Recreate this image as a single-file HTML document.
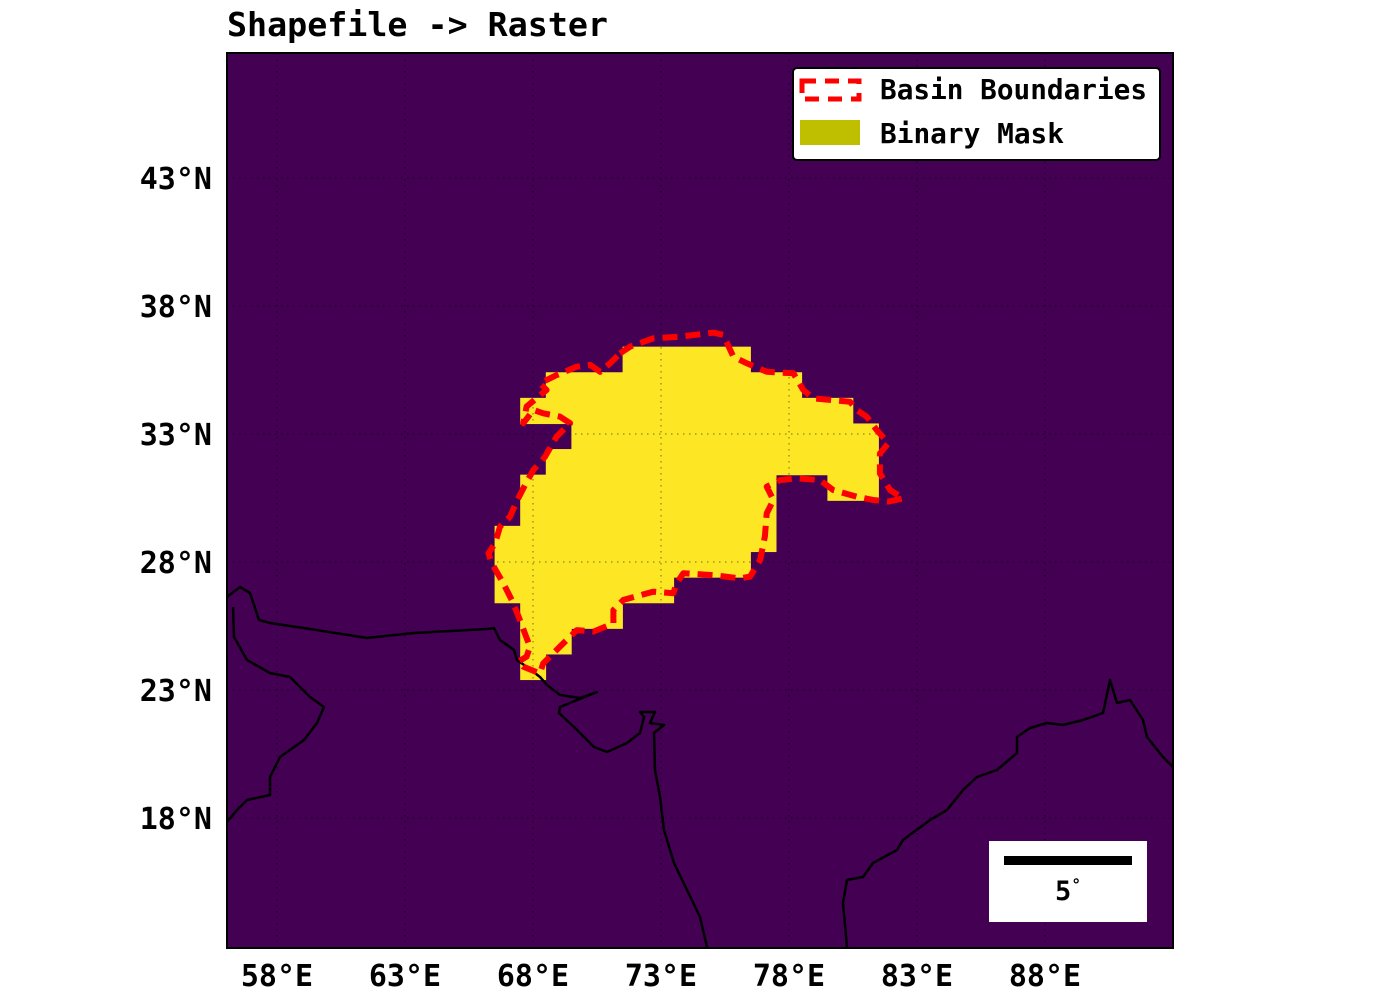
<!DOCTYPE html>
<html><head><meta charset="utf-8"><style>
html,body{margin:0;padding:0;background:#fff;}
svg{display:block;font-family:"DejaVu Sans Mono","Liberation Mono",monospace;font-weight:bold;}
</style></head><body>
<svg id="chart" width="1400" height="1000" viewBox="0 0 1400 1000">
<text x="227" y="36" font-size="33" textLength="381" lengthAdjust="spacingAndGlyphs">Shapefile -&gt; Raster</text>
<clipPath id="clip"><rect x="227" y="53" width="946" height="895"/></clipPath>
<rect x="227" y="53" width="946" height="895" fill="#440154"/>
<g id="mask" clip-path="url(#clip)"></g>
<g id="grid" clip-path="url(#clip)"></g>
<g id="coast" clip-path="url(#clip)"></g>
<g id="basin" clip-path="url(#clip)"></g>
<rect x="227" y="53" width="946" height="895" fill="none" stroke="#000" stroke-width="2"/>
<g id="xticks"></g>
<g id="yticks"></g>
<g>
<rect x="793" y="68" width="367" height="92" rx="4" fill="#fff" stroke="#000" stroke-width="2"/>
<rect x="802" y="81" width="57" height="18" fill="none" stroke="#ff0000" stroke-width="5" stroke-dasharray="14,9"/>
<text x="880" y="99" font-size="28" textLength="267" lengthAdjust="spacingAndGlyphs">Basin Boundaries</text>
<rect x="800" y="120" width="60" height="25" fill="#bfbf00"/>
<text x="880" y="143" font-size="28" textLength="184" lengthAdjust="spacingAndGlyphs">Binary Mask</text>
</g>
<g>
<rect x="989" y="841" width="158" height="81" fill="#fff"/>
<rect x="1004" y="856" width="128" height="9" fill="#000"/>
<text x="1068" y="900" font-size="27" text-anchor="middle">5<tspan font-size="16" dy="-10">°</tspan></text>
</g>
</svg>
<script>
const lonTicks=[58,63,68,73,78,83,88];
const latTicks=[43,38,33,28,23,18];
// mask rows: top latitude edge, list of [west,east] lon segments
const maskRowTop=[36.4,35.4,34.4,33.4,32.4,31.4,30.4,29.4,28.4,27.4,26.4,25.4,24.4];
const maskRowSegs=[[[71.5,76.5]],[[68.5,78.5]],[[67.5,80.5]],[[69.5,81.5]],[[68.5,81.5]],[[67.5,77.5],[79.5,81.5]],[[67.5,77.5]],[[66.5,77.5]],[[66.5,76.5]],[[66.5,73.5]],[[67.5,71.5]],[[67.5,69.5]],[[67.5,68.5]]];
const basinLon=[71.40,71.79,72.70,73.74,75.04,75.43,75.83,76.35,77.13,78.17,78.56,78.95,80.38,80.64,81.03,81.42,81.88,81.55,81.55,81.95,82.47,81.88,81.29,80.64,79.73,79.21,78.30,77.65,77.13,77.39,77.13,77.06,76.87,76.48,76.09,75.04,73.87,73.61,73.48,72.70,71.53,71.14,71.14,70.36,69.71,69.05,68.66,68.40,68.27,67.62,67.43,67.75,67.88,67.49,67.23,66.84,66.39,66.26,66.52,66.71,67.10,67.36,67.69,68.01,68.47,68.92,69.45,69.05,68.40,68.01,67.82,67.62,67.75,68.21,68.53,68.27,68.92,69.71,70.23,70.62,71.01,71.40];
const basinLat=[36.15,36.41,36.74,36.80,36.96,36.87,36.02,35.76,35.43,35.37,34.72,34.39,34.26,33.94,33.68,33.16,32.64,32.24,31.46,30.81,30.49,30.36,30.42,30.55,30.81,31.20,31.27,31.20,30.94,30.42,29.90,29.00,28.08,27.43,27.36,27.49,27.56,27.17,26.78,26.84,26.52,26.12,25.60,25.28,25.34,24.69,24.30,24.04,23.65,23.91,24.11,24.30,24.69,25.73,26.39,27.17,27.95,28.34,28.73,29.38,29.77,30.36,31.01,31.59,32.11,32.90,33.42,33.68,33.81,33.94,33.68,33.42,34.07,34.46,34.72,34.98,35.30,35.63,35.70,35.43,35.76,36.15];

const PX=25.6;
function xOf(lon){return 533+(lon-68)*PX;}
function yOf(lat){return 562-(lat-28)*PX;}
const NS='http://www.w3.org/2000/svg';
function mk(tag,attrs,parent){const e=document.createElementNS(NS,tag);for(const k in attrs)e.setAttribute(k,attrs[k]);parent.appendChild(e);return e;}

const maskG=document.getElementById('mask');
maskRowTop.forEach((top,i)=>{
  maskRowSegs[i].forEach(s=>{
    const r=mk('rect',{x:xOf(s[0]),y:yOf(top)-0.3,width:xOf(s[1])-xOf(s[0])+0.3,height:PX+0.6,fill:'#fde725'},maskG);
    
    
  });
});

const gridG=document.getElementById('grid');
lonTicks.forEach(l=>{
  const ln=mk('line',{x1:xOf(l),x2:xOf(l),y1:53,y2:948,stroke:'#000','stroke-width':1.5,'stroke-dasharray':'1.5,4.5','stroke-opacity':0.35},gridG);
  
  
  const t=mk('text',{x:xOf(l),y:986,'font-size':30,'text-anchor':'middle'},document.getElementById('xticks'));
  t.textContent=l+'°E';
  
  
});
latTicks.forEach(l=>{
  const ln=mk('line',{x1:227,x2:1173,y1:yOf(l),y2:yOf(l),stroke:'#000','stroke-width':1.5,'stroke-dasharray':'1.5,4.5','stroke-opacity':0.35},gridG);
  
  
  const t=mk('text',{x:212,y:yOf(l)+11,'font-size':30,'text-anchor':'end'},document.getElementById('yticks'));
  t.textContent=l+'°N';
  
  
});

// basemap coastlines (pixel traces)
const coasts=[
 "M227,597 L240,587 L250,593 L259,620 L270,623 L310,629 L367,638 L414,633 L487,629 L494,628 L500,640 L514,650 L517,660 L527,667 L540,677 L547,685 L560,695 L580,698 L597,692 L560,707 L559,713 L574,727 L594,747 L607,752 L627,743 L640,733 L644,717 L640,712 L655,712 L650,723 L664,725 L654,733 L655,770 L660,797 L664,830 L674,863 L687,890 L700,917 L707,947",
 "M233,607 L234,637 L247,660 L270,673 L290,677 L310,697 L324,707 L317,723 L304,740 L280,757 L270,777 L270,795 L247,800 L237,810 L227,822",
 "M847,947 L843,903 L847,880 L863,877 L873,863 L897,850 L903,840 L930,820 L947,810 L963,790 L977,777 L997,770 L1017,753 L1017,737 L1030,728 L1047,723 L1063,725 L1083,720 L1103,713 L1110,680 L1117,703 L1130,700 L1143,720 L1147,737 L1163,757 L1173,767"
];
coasts.forEach(d=>{
  const p=mk('path',{d:d,fill:'none',stroke:'#000','stroke-width':2.5,'stroke-linejoin':'round'},document.getElementById('coast'));
  
  
});

const pts=basinLon.map((l,i)=>xOf(l).toFixed(1)+','+yOf(basinLat[i]).toFixed(1)).join(' ');
const bp=mk('polyline',{points:pts,fill:'none',stroke:'#ff0000','stroke-width':6,'stroke-dasharray':'15,8','stroke-linejoin':'round'},document.getElementById('basin'));


</script>
</body></html>
